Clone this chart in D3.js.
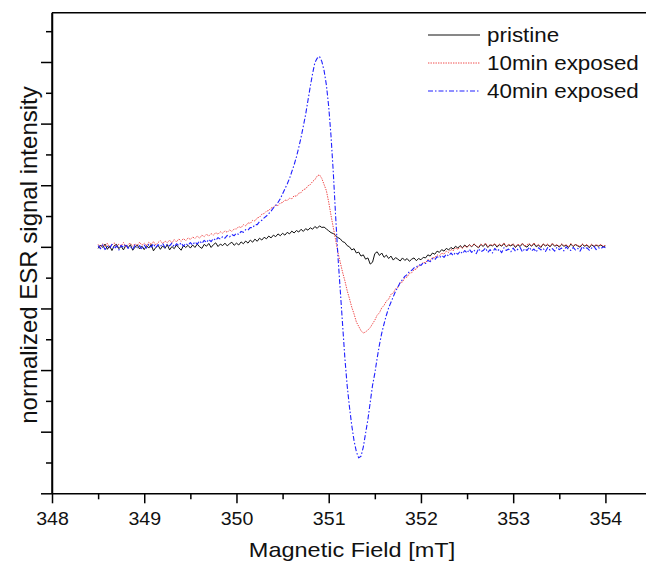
<!DOCTYPE html>
<html>
<head>
<meta charset="utf-8">
<script src="https://cdn.jsdelivr.net/npm/d3@7"></script>
<style>
  body { margin: 0; background: #fff; }
  svg { display: block; font-family: "Liberation Sans", Arial, sans-serif; }
</style>
</head>
<body>
<svg id="chart"></svg>
<script>
// magnetic field grid of the spectra [mT], one row per 0.5 mT
const field = [
  348.500, 348.525, 348.550, 348.575, 348.600, 348.625, 348.650, 348.675, 348.700, 348.725,
  348.750, 348.775, 348.800, 348.825, 348.850, 348.875, 348.900, 348.925, 348.950, 348.975,
  349.000, 349.025, 349.050, 349.075, 349.100, 349.125, 349.150, 349.175, 349.200, 349.225,
  349.250, 349.275, 349.300, 349.325, 349.350, 349.375, 349.400, 349.425, 349.450, 349.475,
  349.500, 349.525, 349.550, 349.575, 349.600, 349.625, 349.650, 349.675, 349.700, 349.725,
  349.750, 349.775, 349.800, 349.825, 349.850, 349.875, 349.900, 349.925, 349.950, 349.975,
  350.000, 350.025, 350.050, 350.075, 350.100, 350.125, 350.150, 350.175, 350.200, 350.225,
  350.250, 350.275, 350.300, 350.325, 350.350, 350.375, 350.400, 350.425, 350.450, 350.475,
  350.500, 350.525, 350.550, 350.575, 350.600, 350.625, 350.650, 350.675, 350.700, 350.725,
  350.750, 350.775, 350.800, 350.825, 350.850, 350.875, 350.900, 350.925, 350.950, 350.975,
  351.000, 351.025, 351.050, 351.075, 351.100, 351.125, 351.150, 351.175, 351.200, 351.225,
  351.250, 351.275, 351.300, 351.325, 351.350, 351.375, 351.400, 351.425, 351.450, 351.475,
  351.500, 351.525, 351.550, 351.575, 351.600, 351.625, 351.650, 351.675, 351.700, 351.725,
  351.750, 351.775, 351.800, 351.825, 351.850, 351.875, 351.900, 351.925, 351.950, 351.975,
  352.000, 352.025, 352.050, 352.075, 352.100, 352.125, 352.150, 352.175, 352.200, 352.225,
  352.250, 352.275, 352.300, 352.325, 352.350, 352.375, 352.400, 352.425, 352.450, 352.475,
  352.500, 352.525, 352.550, 352.575, 352.600, 352.625, 352.650, 352.675, 352.700, 352.725,
  352.750, 352.775, 352.800, 352.825, 352.850, 352.875, 352.900, 352.925, 352.950, 352.975,
  353.000, 353.025, 353.050, 353.075, 353.100, 353.125, 353.150, 353.175, 353.200, 353.225,
  353.250, 353.275, 353.300, 353.325, 353.350, 353.375, 353.400, 353.425, 353.450, 353.475,
  353.500, 353.525, 353.550, 353.575, 353.600, 353.625, 353.650, 353.675, 353.700, 353.725,
  353.750, 353.775, 353.800, 353.825, 353.850, 353.875, 353.900, 353.925, 353.950, 353.975,
  354.000
];

// normalized ESR signal (1 unit = one y tick)
const pristine = [
  -0.05, 0.06, -0.02, 0.09, -0.08, 0.03, -0.12, 0.04, 0.08, -0.06, 0.02, -0.10, 0.05, -0.03, 0.07, -0.11, -0.01, 0.06, -0.07, 0.02,
  -0.09, 0.04, -0.04, 0.08, -0.13, -0.02, 0.05, -0.08, 0.03, -0.05, 0.07, -0.10, 0.01, -0.06, 0.06, -0.03, -0.11, 0.04, -0.02, 0.05,
  -0.04, 0.06, -0.02, 0.09, 0.00, -0.05, 0.08, 0.02, 0.11, -0.02, 0.07, 0.13, 0.01, 0.09, 0.04, 0.12, 0.03, 0.10, 0.15, 0.05,
  0.12, 0.06, 0.16, 0.10, 0.19, 0.12, 0.22, 0.15, 0.25, 0.18, 0.28, 0.22, 0.31, 0.26, 0.35, 0.29, 0.38, 0.33, 0.42, 0.36,
  0.44, 0.38, 0.47, 0.42, 0.51, 0.45, 0.53, 0.48, 0.57, 0.50, 0.59, 0.54, 0.62, 0.57, 0.66, 0.60, 0.68, 0.63, 0.64, 0.58,
  0.52, 0.46, 0.43, 0.37, 0.30, 0.26, 0.17, 0.14, 0.04, 0.00, -0.10, -0.06, -0.20, -0.17, -0.30, -0.26, -0.40, -0.36, -0.56, -0.50,
  -0.22, -0.16, -0.28, -0.20, -0.34, -0.27, -0.38, -0.30, -0.43, -0.35, -0.40, -0.46, -0.36, -0.44, -0.38, -0.47, -0.40, -0.36, -0.45, -0.38,
  -0.42, -0.34, -0.36, -0.26, -0.30, -0.20, -0.24, -0.14, -0.18, -0.09, -0.14, -0.05, -0.10, -0.02, -0.07, 0.02, -0.04, 0.04, -0.03, 0.06,
  -0.01, 0.07, 0.00, 0.09, 0.02, -0.03, 0.08, 0.01, 0.10, -0.02, 0.06, 0.03, 0.09, -0.01, 0.07, 0.02, 0.11, 0.00, 0.06, 0.03,
  0.08, -0.02, 0.07, 0.01, 0.10, 0.03, -0.01, 0.08, 0.02, 0.11, 0.00, 0.06, -0.02, 0.09, 0.03, 0.07, 0.00, 0.10, 0.02, 0.06,
  -0.01, 0.08, 0.02, 0.05, -0.02, 0.09, 0.01, 0.07, 0.03, -0.01, 0.08, 0.02, 0.06, -0.03, 0.07, 0.01, 0.05, 0.02, 0.06, 0.00,
  0.03
];

const exposed10 = [
  0.08, -0.02, 0.10, 0.01, 0.12, -0.03, 0.06, 0.13, 0.00, 0.09, 0.03, 0.14, -0.01, 0.08, 0.12, 0.02, 0.10, 0.04, 0.15, 0.05,
  0.12, 0.04, 0.15, 0.08, 0.17, 0.06, 0.14, 0.20, 0.10, 0.19, 0.13, 0.22, 0.12, 0.24, 0.16, 0.26, 0.18, 0.27, 0.20, 0.29,
  0.24, 0.32, 0.27, 0.35, 0.28, 0.38, 0.33, 0.41, 0.35, 0.43, 0.38, 0.46, 0.41, 0.49, 0.44, 0.52, 0.47, 0.55, 0.50, 0.58,
  0.58, 0.66, 0.62, 0.72, 0.68, 0.78, 0.76, 0.86, 0.84, 0.94, 0.96, 1.06, 1.08, 1.16, 1.18, 1.26, 1.28, 1.36, 1.34, 1.42,
  1.44, 1.52, 1.50, 1.58, 1.56, 1.66, 1.64, 1.74, 1.76, 1.86, 1.88, 1.98, 2.02, 2.12, 2.18, 2.30, 2.34, 2.22, 2.02, 1.82,
  1.45, 1.02, 0.62, 0.22, -0.18, -0.50, -0.82, -1.10, -1.42, -1.68, -1.96, -2.18, -2.44, -2.58, -2.72, -2.80, -2.76, -2.70, -2.62, -2.50,
  -2.38, -2.22, -2.14, -1.98, -1.90, -1.76, -1.70, -1.54, -1.50, -1.36, -1.32, -1.16, -1.14, -1.00, -0.98, -0.86, -0.84, -0.74, -0.72, -0.62,
  -0.60, -0.50, -0.52, -0.42, -0.44, -0.34, -0.36, -0.26, -0.30, -0.20, -0.24, -0.14, -0.18, -0.08, -0.13, -0.03, -0.09, 0.01, -0.05, 0.04,
  -0.02, 0.07, 0.01, 0.10, 0.03, -0.01, 0.09, 0.04, 0.12, 0.00, 0.08, 0.05, 0.11, 0.02, 0.09, 0.04, 0.13, 0.01, 0.08, 0.05,
  0.10, 0.01, 0.09, 0.04, 0.12, 0.02, 0.07, 0.11, 0.03, 0.13, 0.04, 0.08, 0.00, 0.10, 0.05, 0.09, 0.02, 0.12, 0.04, 0.07,
  0.01, 0.10, 0.04, 0.07, 0.00, 0.11, 0.03, 0.08, 0.05, 0.01, 0.10, 0.04, 0.08, 0.00, 0.09, 0.03, 0.07, 0.04, 0.08, 0.02,
  0.05
];

const exposed40 = [
  0.04, -0.06, 0.07, -0.09, 0.02, -0.04, 0.08, -0.07, 0.03, -0.10, 0.05, -0.02, 0.09, -0.05, 0.01, -0.08, 0.06, -0.03, 0.04, -0.09,
  0.06, -0.04, 0.08, -0.01, 0.10, -0.03, 0.07, 0.01, 0.11, -0.02, 0.09, 0.03, 0.12, 0.00, 0.10, 0.04, 0.13, 0.02, 0.11, 0.05,
  0.14, 0.06, 0.16, 0.09, 0.19, 0.11, 0.21, 0.14, 0.24, 0.17, 0.27, 0.21, 0.30, 0.25, 0.33, 0.28, 0.37, 0.32, 0.40, 0.36,
  0.44, 0.40, 0.50, 0.47, 0.56, 0.54, 0.63, 0.62, 0.72, 0.72, 0.82, 0.86, 0.94, 1.00, 1.08, 1.16, 1.26, 1.34, 1.44, 1.56,
  1.72, 1.88, 2.04, 2.22, 2.44, 2.66, 2.92, 3.22, 3.55, 3.92, 4.30, 4.75, 5.20, 5.62, 5.98, 6.12, 6.18, 6.02, 5.72, 5.25,
  4.55, 3.60, 2.40, 1.00, -0.30, -1.40, -2.50, -3.60, -4.50, -5.20, -5.80, -6.30, -6.65, -6.85, -6.80, -6.50, -6.05, -5.60, -5.05, -4.50,
  -4.10, -3.62, -3.18, -2.80, -2.50, -2.22, -1.98, -1.80, -1.62, -1.44, -1.30, -1.16, -1.06, -0.96, -0.90, -0.80, -0.76, -0.68, -0.66, -0.58,
  -0.60, -0.52, -0.54, -0.44, -0.48, -0.38, -0.42, -0.32, -0.36, -0.28, -0.34, -0.24, -0.30, -0.20, -0.28, -0.18, -0.24, -0.14, -0.22, -0.12,
  -0.20, -0.08, -0.18, -0.10, -0.22, -0.06, -0.16, -0.12, -0.04, -0.18, -0.09, -0.20, -0.05, -0.14, -0.08, -0.19, -0.03, -0.12, -0.07, -0.16,
  -0.04, -0.14, -0.08, -0.02, -0.16, -0.06, -0.12, -0.01, -0.13, -0.07, -0.17, -0.03, -0.10, -0.05, -0.15, -0.02, -0.11, -0.06, -0.14, -0.01,
  -0.09, -0.04, -0.13, 0.00, -0.08, -0.12, -0.02, -0.10, -0.05, -0.14, 0.01, -0.07, -0.03, -0.11, -0.04, 0.02, -0.09, -0.03, -0.06, 0.00,
  -0.03
];

const seriesNames = ["pristine", "10min exposed", "40min exposed"];
const xMajorTicks = [348, 349, 350, 351, 352, 353, 354];
const xMinorTicks = [348.5, 349.5, 350.5, 351.5, 352.5, 353.5];
const yMajorTicks = [-8, -6, -4, -2, 0, 2, 4, 6];
const yMinorTicks = [-7, -5, -3, -1, 1, 3, 5, 7];

const width = 646;
const height = 566;
const marginLeft = 52;
const marginTop = 12.7;
const marginBottom = 72.7;
const stretch = "scale(1.12,1)"; // the source figure's lettering is slightly wide

const x = d3.scaleLinear([348, 354.44], [marginLeft, width]);
const y = d3.scaleLinear([-8, 7.6], [height - marginBottom, marginTop]);

const svg = d3.select("#chart")
    .attr("width", width)
    .attr("height", height)
    .attr("viewBox", [0, 0, width, height]);

const styles = [
  { color: "#111", dash: null, width: 1 },
  { color: "#f04848", dash: "1.4,1.1", width: 1 },
  { color: "#2020ff", dash: "5,2,1.5,2", width: 1.1 }
];
const spectra = [pristine, exposed10, exposed40];

const line = d3.line()
    .x((d, i) => x(field[i]))
    .y(d => y(d));

// spectra, pristine first so the exposed ones sit on top
spectra.forEach((values, k) => {
  svg.append("path")
      .attr("fill", "none")
      .attr("stroke", styles[k].color)
      .attr("stroke-width", styles[k].width)
      .attr("stroke-dasharray", styles[k].dash)
      .attr("stroke-linejoin", "round")
      .attr("d", line(values));
});

// top frame line
svg.append("line")
    .attr("x1", marginLeft).attr("x2", width)
    .attr("y1", y(7.6)).attr("y2", y(7.6))
    .attr("stroke", "#000").attr("stroke-width", 1.5);

// x axis: major ticks with labels, minor ticks without
svg.append("g")
    .attr("transform", `translate(0,${height - marginBottom})`)
    .call(d3.axisBottom(x).tickValues(xMajorTicks).tickFormat(d3.format("d"))
        .tickSize(10).tickSizeOuter(0).tickPadding(9))
    .call(g => g.select(".domain").attr("stroke-width", 1.5))
    .call(g => g.selectAll(".tick line").attr("stroke-width", 1.5))
    .call(g => g.selectAll(".tick text")
        .attr("font-size", 17.5).attr("fill", "#111").attr("transform", stretch));

svg.append("g")
    .attr("transform", `translate(0,${height - marginBottom})`)
    .call(d3.axisBottom(x).tickValues(xMinorTicks).tickFormat("").tickSize(6).tickSizeOuter(0))
    .call(g => g.select(".domain").remove())
    .call(g => g.selectAll(".tick line").attr("stroke-width", 1.5));

// y axis without labels
svg.append("g")
    .attr("transform", `translate(${marginLeft},0)`)
    .call(d3.axisLeft(y).tickValues(yMajorTicks).tickFormat("").tickSize(11).tickSizeOuter(0))
    .call(g => g.select(".domain").attr("stroke-width", 1.5))
    .call(g => g.selectAll(".tick line").attr("stroke-width", 1.5));

svg.append("g")
    .attr("transform", `translate(${marginLeft},0)`)
    .call(d3.axisLeft(y).tickValues(yMinorTicks).tickFormat("").tickSize(6).tickSizeOuter(0))
    .call(g => g.select(".domain").remove())
    .call(g => g.selectAll(".tick line").attr("stroke-width", 1.5));

svg.append("line")
    .attr("x1", marginLeft).attr("x2", marginLeft)
    .attr("y1", y(7.6)).attr("y2", height - marginBottom)
    .attr("stroke", "#000").attr("stroke-width", 1.5);

// axis titles
svg.append("text")
    .attr("transform", `translate(352,557) ${stretch}`)
    .attr("text-anchor", "middle")
    .attr("font-size", 21)
    .attr("fill", "#111")
    .text("Magnetic Field [mT]");

svg.append("text")
    .attr("transform", `translate(37,255) rotate(-90)`)
    .attr("text-anchor", "middle")
    .attr("font-size", 24)
    .attr("fill", "#111")
    .text("normalized ESR signal intensity");

// legend
const legend = svg.append("g");
seriesNames.forEach((name, k) => {
  const ly = 35 + k * 28;
  legend.append("line")
      .attr("x1", 428).attr("x2", 480)
      .attr("y1", ly).attr("y2", ly)
      .attr("stroke", styles[k].color)
      .attr("stroke-width", styles[k].width)
      .attr("stroke-dasharray", styles[k].dash);
  legend.append("text")
      .attr("transform", `translate(487,${ly + 7}) ${stretch}`)
      .attr("font-size", 20)
      .attr("fill", "#111")
      .text(name);
});
</script>
</body>
</html>
